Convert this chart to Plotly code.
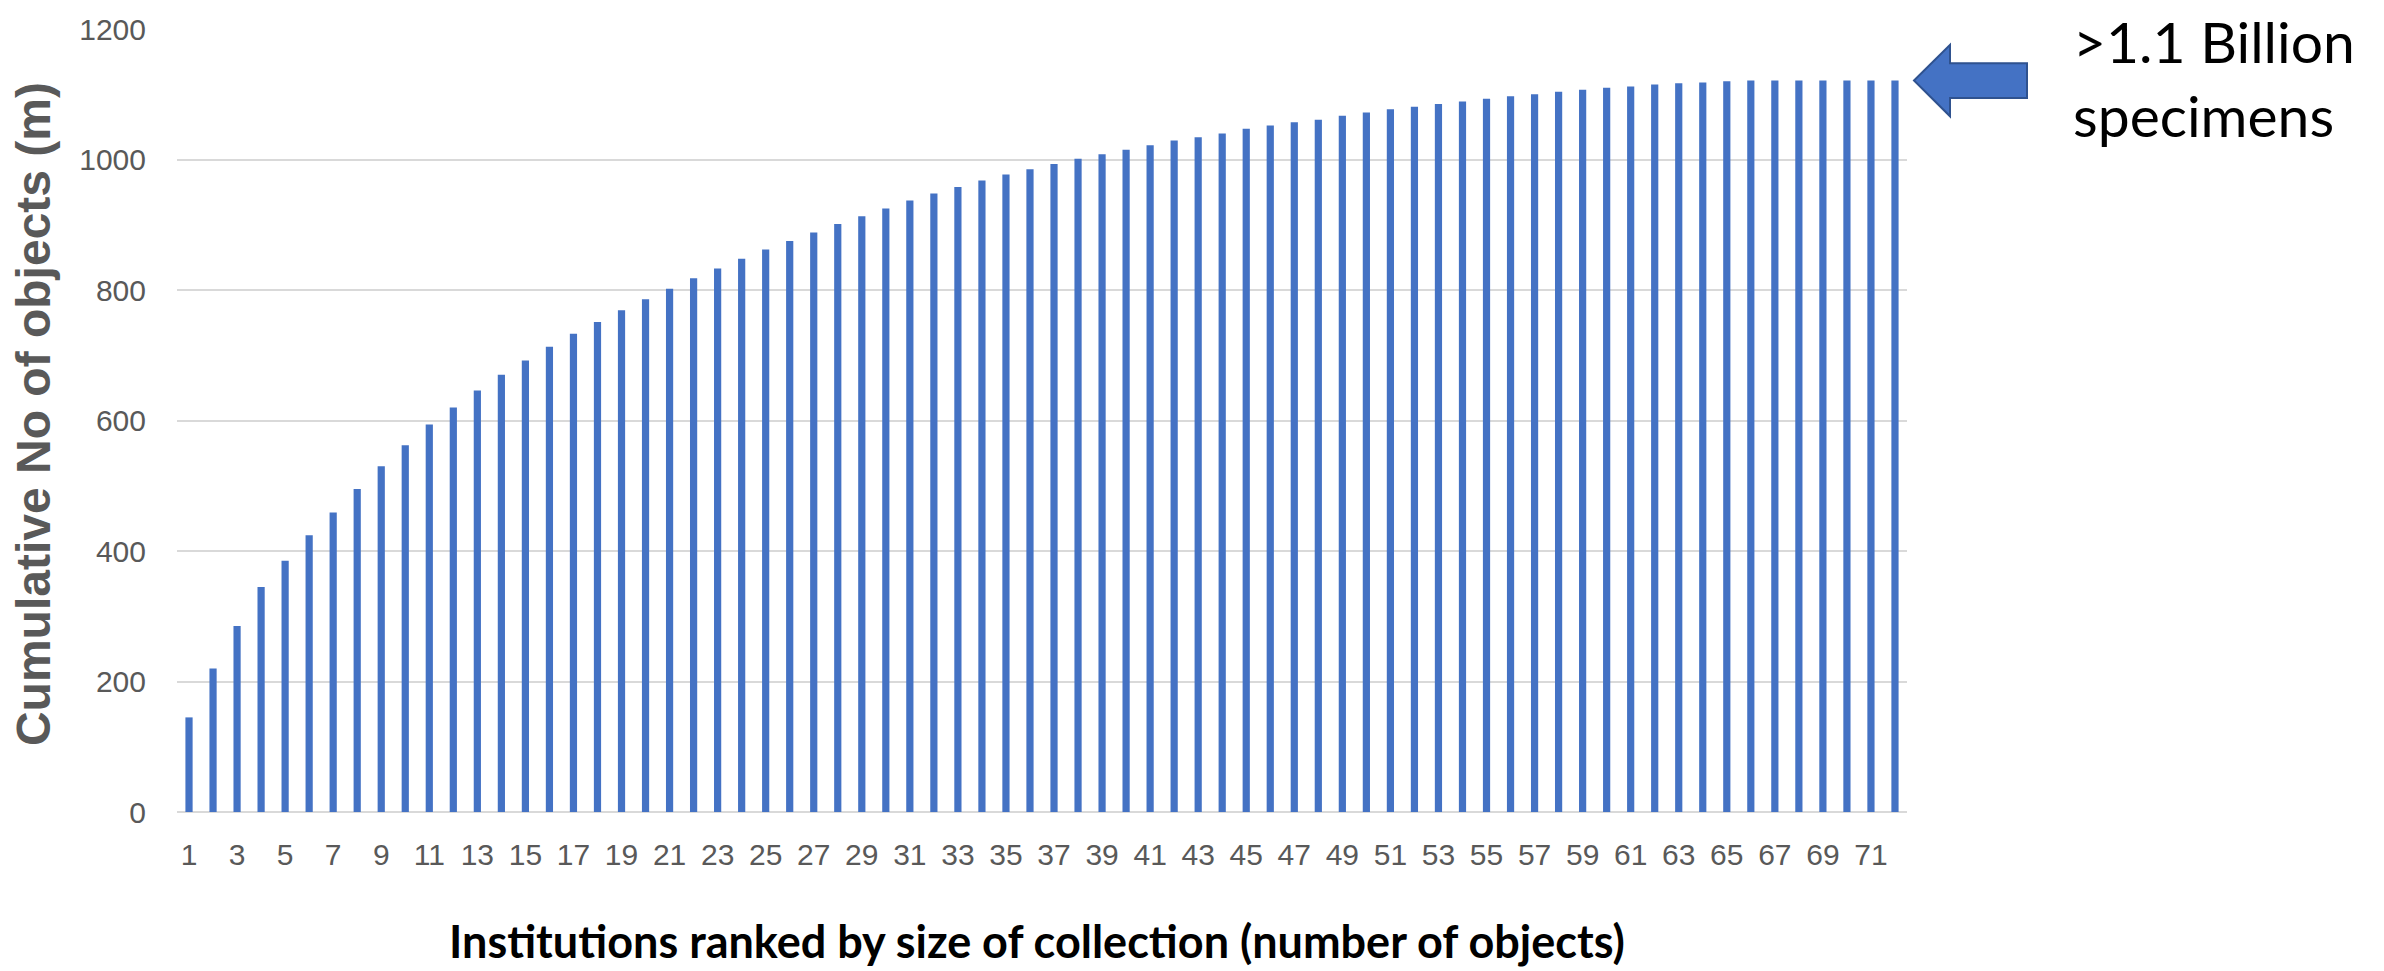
import plotly.graph_objects as go

# Institutions ranked by collection size (rank 1 = largest)
ranks = list(range(1, 73))

# Cumulative number of objects held, in millions
cumulative_objects_m = [
    145, 220, 285, 345, 385, 424, 459, 495, 530, 562,
    594, 620, 646, 670, 692, 713, 733, 751, 769, 786,
    802, 818, 833, 848, 862, 875, 888, 901, 913, 925,
    937, 948, 958, 968, 977, 985, 993, 1001, 1008, 1015,
    1022, 1029, 1034, 1040, 1047, 1052, 1057, 1061, 1067, 1072,
    1077, 1081, 1085, 1089, 1093, 1097, 1100, 1104, 1107, 1110,
    1112, 1115, 1117, 1118, 1120, 1121, 1121, 1121, 1121, 1121,
    1121, 1121,
]

x_tick_values = list(range(1, 73, 2))
x_tick_labels = [str(v) for v in x_tick_values]
y_tick_values = [0, 200, 400, 600, 800, 1000, 1200]

y_title = "Cumulative No of objects (m)"
x_title = "Institutions ranked by size of collection (number of objects)"
callout = ">1.1 Billion<br>specimens"

W, H = 2384, 971
L, R, T, B = 177, 477, 23, 159
plot_w = W - L - R
plot_h = H - T - B
Y_MAX = 1200

BAR_BLUE = "#4472C4"
GRID = "#D9D9D9"
TICK_GREY = "#595959"


def px_x(px):
    """Horizontal page pixel -> paper coordinate."""
    return (px - L) / plot_w


def px_y(py):
    """Vertical page pixel (from top) -> paper coordinate."""
    return (H - B - py) / plot_h


units_per_px = Y_MAX / plot_h

fig = go.Figure(
    go.Bar(
        x=ranks,
        y=cumulative_objects_m,
        marker=dict(color=BAR_BLUE, line=dict(width=0)),
        width=0.3,
        hoverinfo="x+y",
    )
)

# Block arrow pointing at the final cumulative total
total = cumulative_objects_m[-1]
head_half = 36 * units_per_px
shaft_half = 17.5 * units_per_px
tip_x, base_x, end_x = px_x(1914), px_x(1950), px_x(2027)
arrow_path = (
    f"M {tip_x},{total} "
    f"L {base_x},{total + head_half} "
    f"L {base_x},{total + shaft_half} "
    f"L {end_x},{total + shaft_half} "
    f"L {end_x},{total - shaft_half} "
    f"L {base_x},{total - shaft_half} "
    f"L {base_x},{total - head_half} Z"
)
fig.add_shape(
    type="path",
    path=arrow_path,
    xref="paper",
    yref="y",
    fillcolor=BAR_BLUE,
    line=dict(color="#2F528F", width=2),
    layer="above",
)

fig.add_annotation(
    text=callout,
    xref="paper", yref="paper",
    x=px_x(2071), y=px_y(72),
    xanchor="left", yanchor="middle",
    align="left",
    showarrow=False,
    font=dict(family="Lato", size=57, color="#000000"),
)

fig.add_annotation(
    text=y_title,
    xref="paper", yref="paper",
    x=px_x(33), y=px_y(411),
    xanchor="center", yanchor="middle",
    textangle=-90,
    showarrow=False,
    font=dict(family="Liberation Sans, Arial, sans-serif", size=48, color=TICK_GREY, weight="bold"),
)

fig.add_annotation(
    text=x_title,
    xref="paper", yref="paper",
    x=px_x(1037), y=px_y(942),
    xanchor="center", yanchor="middle",
    showarrow=False,
    font=dict(family="Lato", size=45, color="#000000", weight="bold"),
)

fig.update_layout(
    width=W,
    height=H,
    margin=dict(l=L, r=R, t=T, b=B, pad=0),
    paper_bgcolor="white",
    plot_bgcolor="white",
    showlegend=False,
    bargap=0.7,
    font=dict(family="Liberation Sans, Arial, sans-serif", size=30, color=TICK_GREY),
    xaxis=dict(
        range=[0.5, 72.5],
        tickmode="array",
        tickvals=x_tick_values,
        ticktext=x_tick_labels,
        showgrid=False,
        zeroline=False,
        showline=False,
        ticks="",
        ticklabelstandoff=22,
        tickfont=dict(size=30, color=TICK_GREY),
    ),
    yaxis=dict(
        range=[0, Y_MAX],
        tickmode="array",
        tickvals=y_tick_values,
        showgrid=True,
        gridcolor=GRID,
        gridwidth=2,
        zeroline=True,
        zerolinecolor=GRID,
        zerolinewidth=2,
        showline=False,
        ticks="",
        ticklabelstandoff=30,
        tickfont=dict(size=30, color=TICK_GREY),
    ),
)

fig.write_html("out.html")
